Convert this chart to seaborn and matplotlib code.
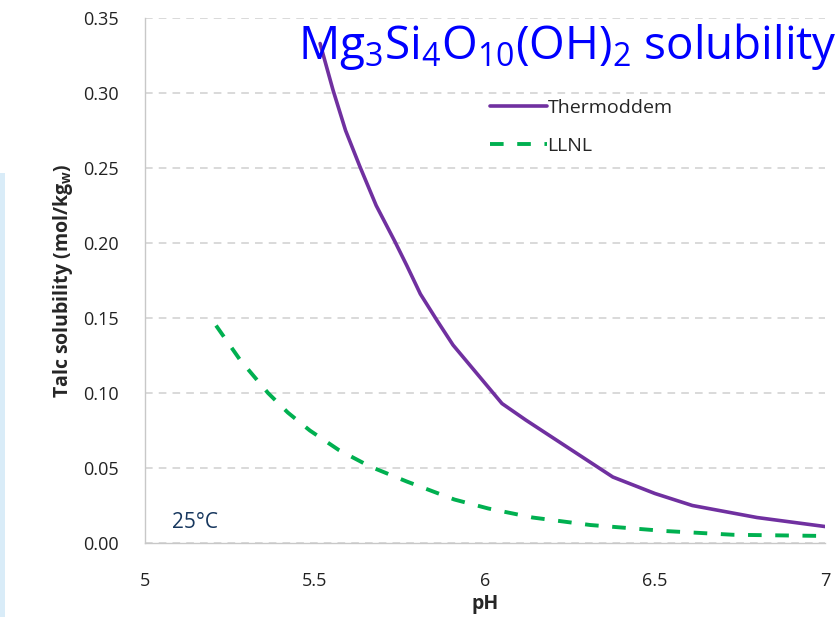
import numpy as np
import pandas as pd
import matplotlib
matplotlib.use('Agg')
import matplotlib.pyplot as plt
import seaborn as sns
from matplotlib.patches import Rectangle

# data
thermo_ph = [5.515, 5.553, 5.59, 5.632, 5.68, 5.735, 5.77, 5.81, 5.86, 5.906, 6.05, 6.12, 6.376, 6.50, 6.61, 6.80, 7.0]
thermo_sol = [0.333, 0.302, 0.275, 0.251, 0.225, 0.201, 0.185, 0.166, 0.148, 0.132, 0.093, 0.082, 0.044, 0.033, 0.025, 0.017, 0.011]
llnl_ph = [5.209, 5.28, 5.362, 5.42, 5.485, 5.57, 5.662, 5.77, 5.91, 6.01, 6.14, 6.31, 6.53, 6.73, 7.0]
llnl_sol = [0.145, 0.122, 0.100, 0.087, 0.075, 0.062, 0.051, 0.041, 0.029, 0.023, 0.017, 0.012, 0.008, 0.0055, 0.0047]

x_ticks = [5, 5.5, 6, 6.5, 7]
x_tick_labels = ['5', '5.5', '6', '6.5', '7']
y_ticks = [0.0, 0.05, 0.10, 0.15, 0.20, 0.25, 0.30, 0.35]

sns.set_style('white')
plt.rcParams['font.family'] = ['Open Sans', 'DejaVu Sans']
plt.rcParams['mathtext.fontset'] = 'custom'
plt.rcParams['mathtext.rm'] = 'Open Sans'
plt.rcParams['mathtext.bf'] = 'Open Sans:bold'

df_thermo = pd.DataFrame({'pH': thermo_ph, 'sol': thermo_sol})
df_llnl = pd.DataFrame({'pH': llnl_ph, 'sol': llnl_sol})

fig = plt.figure(figsize=(8.39, 6.17), dpi=100)
ax = fig.add_axes([0.1728, 0.1199, 0.8105, 0.8509])

# light blue strip on the left edge of the slide
fig.patches.append(Rectangle((0, 0), 0.006, 0.72, transform=fig.transFigure,
                             facecolor='#d9ecf8', edgecolor='none', zorder=0))

sns.lineplot(data=df_thermo, x='pH', y='sol', ax=ax, color='#7030a0', lw=2.6,
             label='Thermoddem', estimator=None, sort=False)
sns.lineplot(data=df_llnl, x='pH', y='sol', ax=ax, color='#00b050', lw=2.8,
             linestyle=(0, (3.5, 3.5)), label='LLNL', estimator=None, sort=False)

ax.set_xlim(5, 7)
ax.set_ylim(0, 0.35)
ax.set_xticks(x_ticks)
ax.set_xticklabels(x_tick_labels)
ax.set_yticks(y_ticks)
ax.set_yticklabels([f'{v:.2f}' for v in y_ticks])
ax.yaxis.grid(True, color='#d0d0d0', linestyle=(0, (5, 4)), lw=1.1)
ax.set_axisbelow(True)

for s in ['top', 'right']:
    ax.spines[s].set_visible(False)
for s in ['left', 'bottom']:
    ax.spines[s].set_color('#c8c8c8')
    ax.spines[s].set_linewidth(1.0)

ax.tick_params(axis='x', direction='out', length=9, width=1, color='#c8c8c8',
               labelsize=13, pad=12, labelcolor='#222222')
ax.tick_params(axis='y', direction='out', length=5, width=1, color='#c8c8c8',
               labelsize=13, pad=14, labelcolor='#222222')

ax.set_xlabel('pH', fontsize=14, fontweight='bold', labelpad=3)
ax.set_ylabel(r'Talc solubility (mol/kg$\mathbf{_w}$)', fontsize=14, fontweight='bold', labelpad=6)

leg = ax.legend(loc='upper left', bbox_to_anchor=(0.482, 0.88), frameon=False,
                fontsize=14, handlelength=2.9, handletextpad=0.05, labelspacing=1.05)

fig.text(0.997, 0.925, r'Mg$_3$Si$_4$O$_{10}$(OH)$_2$ solubility', color='#0000ff',
         fontsize=33, ha='right', va='center')

ax.text(0.04, 0.04, '25°C', transform=ax.transAxes, color='#17375e', fontsize=15,
        ha='left', va='center')

fig.savefig('out.png', dpi=100)
